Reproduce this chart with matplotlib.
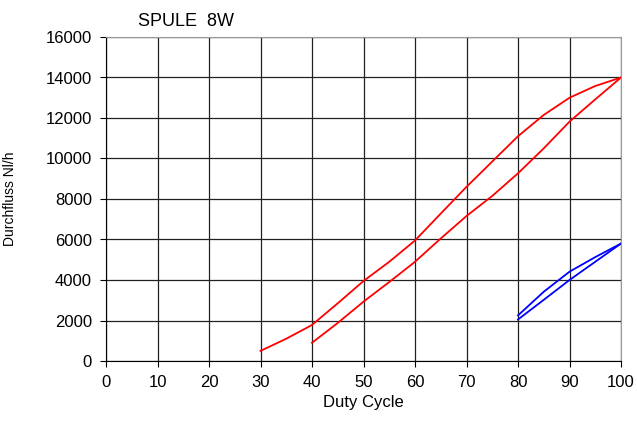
import matplotlib
matplotlib.use("Agg")
import matplotlib.pyplot as plt

plt.rcParams['font.family'] = ['Liberation Sans', 'DejaVu Sans']

red_up_x = [30, 35, 40, 45, 50, 55, 60, 65, 70, 75, 80, 85, 90, 95, 100]
red_up_y = [500, 1100, 1780, 2850, 3950, 4900, 5950, 7280, 8600, 9850, 11100, 12150, 13000, 13580, 14000]
red_lo_x = [40, 45, 50, 55, 60, 65, 70, 75, 80, 85, 90, 95, 100]
red_lo_y = [900, 1880, 2930, 3900, 4900, 6050, 7160, 8150, 9270, 10500, 11820, 12920, 14000]
blue_up_x = [80, 85, 90, 95, 100]
blue_up_y = [2250, 3420, 4410, 5130, 5800]
blue_lo_x = [80, 85, 90, 95, 100]
blue_lo_y = [2050, 3020, 4000, 4900, 5800]

xticks = list(range(0, 101, 10))
yticks = list(range(0, 16001, 2000))

fig = plt.figure(figsize=(6.37, 4.23), dpi=100)
ax = fig.add_axes([106/637, 62/423, 515/637, 324/423])
ax.plot(red_up_x, red_up_y, color='#ff0000', lw=1.3)
ax.plot(red_lo_x, red_lo_y, color='#ff0000', lw=1.3)
ax.plot(blue_up_x, blue_up_y, color='#0000ff', lw=1.3)
ax.plot(blue_lo_x, blue_lo_y, color='#0000ff', lw=1.3)

ax.set_xlim(0, 100)
ax.set_ylim(0, 16000)
ax.set_xticks(xticks)
ax.set_yticks(yticks)
ax.tick_params(labelsize=12, direction='out', length=4, width=0.8, color='black', pad=6)
ax.grid(True, color='#222222', lw=0.9)
ax.set_axisbelow(True)
for s in ['top', 'right']:
    ax.spines[s].set_color('#999999')
for s in ['left', 'bottom']:
    ax.spines[s].set_color('black')
ax.set_xlabel('Duty Cycle', fontsize=12, labelpad=4)
ax.set_ylabel('Durchfluss Nl/h', fontsize=10)
ax.yaxis.set_label_coords(-0.173, 0.5)
fig.text(138/637, 1 - 22/423, 'SPULE  8W', fontsize=13, ha='left', va='center')

fig.savefig('out.png', dpi=100)
